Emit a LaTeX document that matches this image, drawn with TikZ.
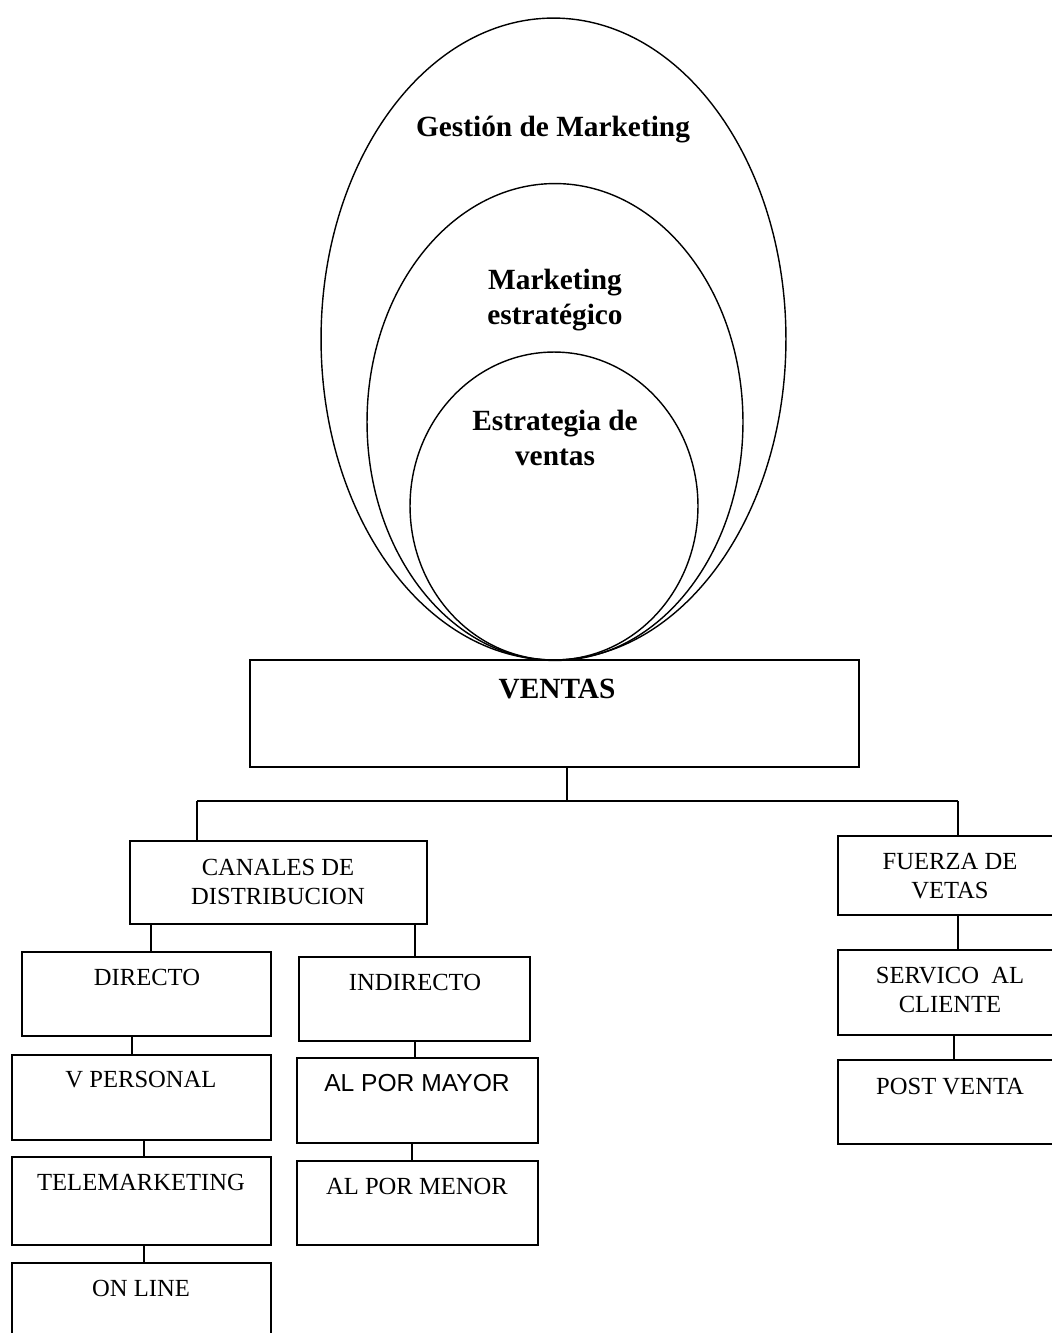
\documentclass[tikz,border=0pt]{standalone}
\usepackage{fontspec}
\setmainfont{Liberation Serif}
\newfontfamily\arialfont{Liberation Sans}
\usetikzlibrary{shapes.geometric}
\begin{document}
\begin{tikzpicture}[x=0.02cm,y=-0.02cm,
  box/.style={draw,line width=1.1pt,rectangle,inner sep=0pt},
  oval/.style={draw,line width=0.8pt,ellipse,inner sep=0pt},
  txt/.style={inner sep=0pt,align=center,font=\fontsize{14}{16.4}\selectfont},
  btxt/.style={inner sep=0pt,align=center,font=\fontsize{16.7}{20.2}\selectfont\bfseries},
  link/.style={line width=0.85pt}]
\useasboundingbox (0,0) rectangle (1052,1333);
\clip (0,0) rectangle (1052,1333);
% ellipses
\node[oval,minimum width=9.3cm,minimum height=12.84cm] (gm) at (553.5,339) {};
\node[oval,minimum width=7.52cm,minimum height=9.54cm] (me) at (555,422) {};
\node[oval,minimum width=5.76cm,minimum height=6.16cm] (ev) at (554,506) {};
\node[btxt] (tgm) at (553,130) {Gestión de Marketing};
\node[btxt] (tme) at (555,300) {Marketing\\estratégico};
\node[btxt] (tev) at (555,438) {Estrategia de\\ventas};
% boxes
\node[box,minimum width=12.18cm,minimum height=2.14cm] (ventas) at (554.5,713.5) {};
\node[btxt] (tventas) at (557,689) {VENTAS};
\node[box,minimum width=5.94cm,minimum height=1.66cm] (canales) at (278.5,882.5) {};
\node[txt] (tcanales) at (278,882) {CANALES DE\\DISTRIBUCION};
\node[box,minimum width=4.48cm,minimum height=1.58cm] (fuerza) at (950,875.5) {};
\node[txt] (tfuerza) at (950,876) {FUERZA DE\\VETAS};
\node[box,minimum width=4.48cm,minimum height=1.7cm] (servico) at (950,992.5) {};
\node[txt] (tservico) at (950,990) {SERVICO\ \ AL\\CLIENTE};
\node[box,minimum width=4.48cm,minimum height=1.68cm] (post) at (950,1102) {};
\node[txt] (tpost) at (950,1087) {POST VENTA};
\node[box,minimum width=4.98cm,minimum height=1.68cm] (directo) at (146.5,994) {};
\node[txt] (tdirecto) at (147,977) {DIRECTO};
\node[box,minimum width=4.62cm,minimum height=1.68cm] (indirecto) at (414.5,999) {};
\node[txt] (tindirecto) at (415,982) {INDIRECTO};
\node[box,minimum width=5.18cm,minimum height=1.7cm] (vpers) at (141.5,1097.5) {};
\node[txt] (tvpers) at (141,1080) {V PERSONAL};
\node[box,minimum width=5.18cm,minimum height=1.76cm] (tele) at (141.5,1201) {};
\node[txt] (ttele) at (141,1182) {TELEMARKETING};
\node[box,minimum width=5.18cm,minimum height=1.76cm] (online) at (141.5,1307) {};
\node[txt] (tonline) at (141,1288) {ON LINE};
\node[box,minimum width=4.82cm,minimum height=1.7cm] (mayor) at (417.5,1100.5) {};
\node[txt,font=\fontsize{14}{16.4}\selectfont\arialfont] (tmayor) at (417,1083) {AL POR MAYOR};
\node[box,minimum width=4.82cm,minimum height=1.68cm] (menor) at (417.5,1203) {};
\node[txt] (tmenor) at (417,1186) {AL POR MENOR};
% connectors
\coordinate (bus) at (567,801);
\coordinate (busl) at (197,801);
\coordinate (busr) at (958,801);
\draw[link] (ventas.south -| bus) -- (bus);
\draw[line width=1.1pt] (busl) -- (busr);
\draw[link] (busl) -- (canales.north -| busl);
\draw[link] (busr) -- (fuerza.north -| busr);
\draw[link] (canales.south -| 151,0) -- (directo.north -| 151,0);
\draw[link] (canales.south -| 415,0) -- (indirecto.north -| 415,0);
\draw[link] (directo.south -| 132,0) -- (vpers.north -| 132,0);
\draw[link] (vpers.south -| 144,0) -- (tele.north -| 144,0);
\draw[link] (tele.south -| 144,0) -- (online.north -| 144,0);
\draw[link] (indirecto.south -| 415,0) -- (mayor.north -| 415,0);
\draw[link] (mayor.south -| 412,0) -- (menor.north -| 412,0);
\draw[link] (fuerza.south -| 958,0) -- (servico.north -| 958,0);
\draw[link] (servico.south -| 954,0) -- (post.north -| 954,0);
\end{tikzpicture}
\end{document}
